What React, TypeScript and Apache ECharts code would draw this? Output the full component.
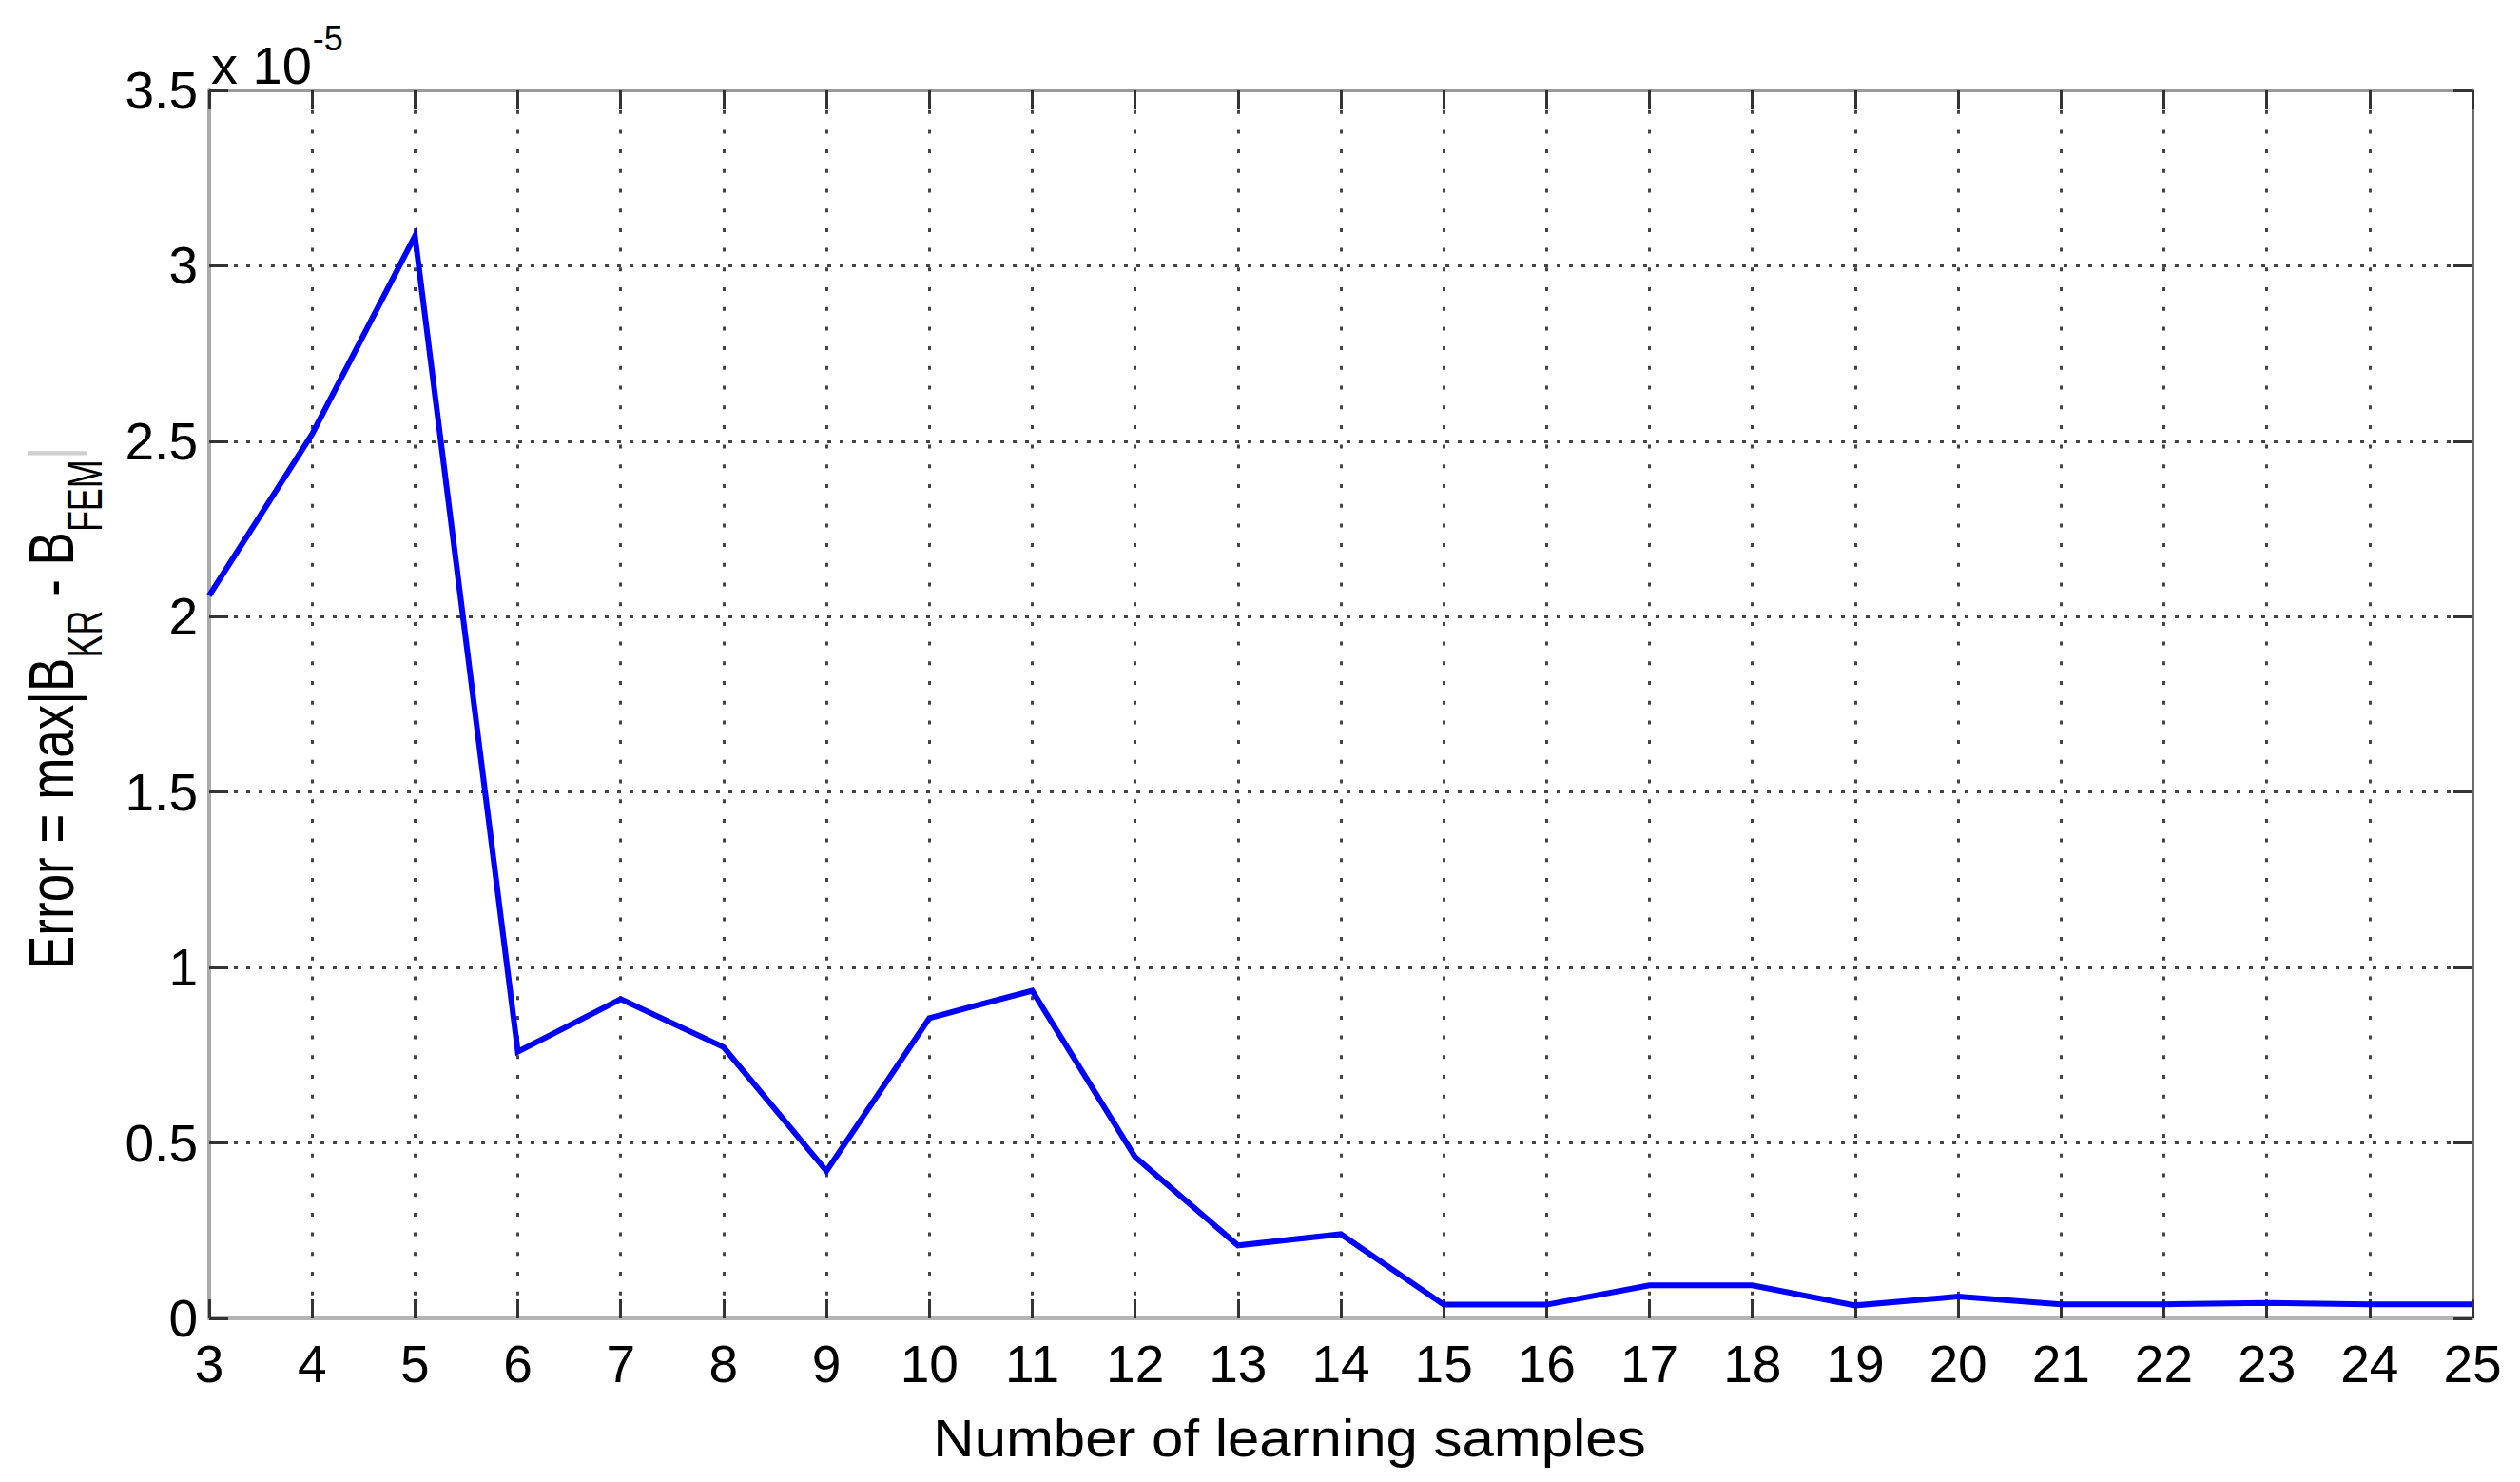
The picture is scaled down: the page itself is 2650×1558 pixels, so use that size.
import React, { useEffect, useRef } from "react";
import * as echarts from "echarts";

// Number of learning samples (x) and error values in units of 1e-5 (y)
const samples = [3, 4, 5, 6, 7, 8, 9, 10, 11, 12, 13, 14, 15, 16, 17, 18, 19, 20, 21, 22, 23, 24, 25];
const errorValues = [
  2.06, 2.52, 3.085, 0.76, 0.91, 0.773, 0.42, 0.856, 0.934, 0.46, 0.208, 0.24,
  0.039, 0.039, 0.094, 0.094, 0.037, 0.062, 0.04, 0.04, 0.044, 0.04, 0.04,
];

const xTitle = "Number of learning samples";
const yTitleParts = [
  { text: "Error = max|B", sub: false, color: "#000" },
  { text: "KR", sub: true, color: "#000" },
  { text: " - B", sub: false, color: "#000" },
  { text: "FEM", sub: true, color: "#000" },
  { text: "|", sub: false, color: "#cfcfcf" },
];
const exponentBase = "x 10";
const exponentPower = "-5";

const FONT = "'Liberation Sans', Arial, Helvetica, sans-serif";

function measure(text: string, size: number): number {
  const ctx = document.createElement("canvas").getContext("2d");
  if (!ctx) return text.length * size * 0.55;
  ctx.font = `${size}px ${FONT}`;
  return ctx.measureText(text).width;
}

export default function App() {
  const ref = useRef<HTMLDivElement>(null);

  useEffect(() => {
    if (!ref.current) return;
    const chart = echarts.init(ref.current, null, { renderer: "svg" });

    const mainSize = 53;
    const subSize = 36;
    let yPos = 1019;
    const yTitleEls: any[] = [];
    yTitleParts.forEach((p) => {
      const size = p.sub ? subSize : mainSize;
      const w = measure(p.text, size);
      yTitleEls.push({
        type: "text",
        x: p.sub ? 89 : 53.5,
        y: yPos,
        rotation: Math.PI / 2,
        scaleY: p.sub ? 1.42 : 1.27,
        style: {
          text: p.text,
          fontSize: size,
          fontFamily: FONT,
          fill: p.color,
          align: "left",
          textAlign: "left",
          verticalAlign: "middle",
          textVerticalAlign: "middle",
        },
      });
      yPos -= w;
    });

    const baseW = measure(exponentBase, 56);

    const tickStyle = { color: "#333", width: 3 };
    const tick = { show: true, inside: false, length: -20, lineStyle: tickStyle };

    chart.setOption({
      animation: false,
      backgroundColor: "#ffffff",
      grid: { left: 220, right: 50, top: 95, bottom: 172, containLabel: false },
      xAxis: [
        {
          type: "value",
          min: 3,
          max: 25,
          interval: 1,
          position: "bottom",
          axisLine: { show: true, onZero: false, lineStyle: { color: "#b4b4b4", width: 4 } },
          axisTick: tick,
          axisLabel: {
            show: true,
            margin: 20,
            fontSize: 55,
            fontFamily: FONT,
            color: "#000",
          },
          splitLine: {
            show: true,
            showMinLine: false,
            showMaxLine: false,
            lineStyle: { type: [4, 16.7], color: "#444", width: 3 },
          },
        },
        {
          type: "value",
          min: 3,
          max: 25,
          interval: 1,
          position: "top",
          axisLine: { show: true, onZero: false, lineStyle: { color: "#999", width: 3 } },
          axisTick: tick,
          axisLabel: { show: false },
          splitLine: { show: false },
        },
      ],
      yAxis: [
        {
          type: "value",
          min: 0,
          max: 3.5,
          interval: 0.5,
          position: "left",
          axisLine: { show: true, onZero: false, lineStyle: { color: "#aaa", width: 4 } },
          axisTick: tick,
          axisLabel: {
            show: true,
            margin: 12,
            fontSize: 55,
            fontFamily: FONT,
            color: "#000",
            padding: [12, 0, 0, 0],
          },
          splitLine: {
            show: true,
            showMinLine: false,
            showMaxLine: false,
            lineStyle: { type: [4, 9], color: "#444", width: 3 },
          },
        },
        {
          type: "value",
          min: 0,
          max: 3.5,
          interval: 0.5,
          position: "right",
          axisLine: { show: true, onZero: false, lineStyle: { color: "#6a6a6a", width: 3 } },
          axisTick: tick,
          axisLabel: { show: false },
          splitLine: { show: false },
        },
      ],
      series: [
        {
          type: "line",
          xAxisIndex: 0,
          yAxisIndex: 0,
          data: samples.map((s, i) => [s, errorValues[i]]),
          showSymbol: false,
          symbol: "none",
          lineStyle: { color: "#0000ff", width: 6, join: "miter" },
          z: 5,
        },
      ],
      graphic: [
        {
          type: "text",
          x: 1356,
          y: 1512,
          scaleX: 1.07,
          style: {
            text: xTitle,
            fontSize: 56,
            fontFamily: FONT,
            fill: "#000",
            align: "center",
            textAlign: "center",
            verticalAlign: "middle",
            textVerticalAlign: "middle",
          },
        },
        {
          type: "text",
          x: 222,
          y: 68,
          style: {
            text: exponentBase,
            fontSize: 56,
            fontFamily: FONT,
            fill: "#000",
            align: "left",
            textAlign: "left",
            verticalAlign: "middle",
            textVerticalAlign: "middle",
          },
        },
        {
          type: "text",
          x: 222 + baseW + 1,
          y: 40,
          style: {
            text: exponentPower,
            fontSize: 36,
            fontFamily: FONT,
            fill: "#000",
            align: "left",
            textAlign: "left",
            verticalAlign: "middle",
            textVerticalAlign: "middle",
          },
        },
        ...yTitleEls,
      ],
    });

    return () => {
      chart.dispose();
    };
  }, []);

  return (
    <div
      ref={ref}
      style={{ position: "fixed", left: 0, top: 0, width: 2650, height: 1558, background: "#fff" }}
    />
  );
}
